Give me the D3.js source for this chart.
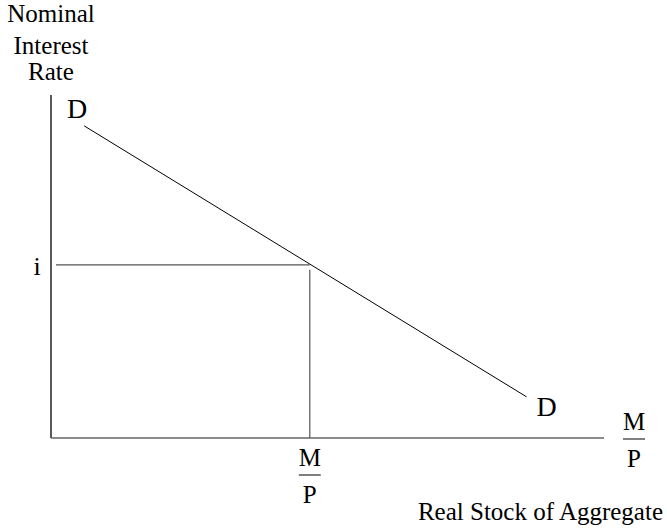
<!DOCTYPE html>
<html>
<head>
<meta charset="utf-8">
<script src="https://cdn.jsdelivr.net/npm/d3@7"></script>
<style>
  body { margin: 0; background: #fff; }
  text { font-family: "Liberation Serif", "Times New Roman", serif; fill: #000; }
</style>
</head>
<body>
<div id="chart"></div>
<script>
// money demand diagram, values in abstract units (0-100 on both axes)
const demandX = [6, 86];
const demandY = [91, 12];
const eqX = [46.8];
const eqY = [50.5];
const yTitle = ["Nominal", "Interest", "Rate"];
const xTitle = "Real Stock of Aggregate";

const width = 667;
const height = 531;
const margin = {top: 95, left: 51, right: 63, bottom: 93};

const svg = d3.select("#chart")
    .append("svg")
    .attr("width", width)
    .attr("height", height);

const xScale = d3.scaleLinear()
    .domain([0, 100])
    .range([margin.left, width - margin.right]);

const yScale = d3.scaleLinear()
    .domain([0, 100])
    .range([height - margin.bottom, margin.top]);

// axes
svg.append("line")
    .attr("x1", xScale(0)).attr("x2", xScale(0))
    .attr("y1", yScale(100)).attr("y2", yScale(0))
    .attr("stroke", "#222").attr("stroke-width", 1.5);

svg.append("line")
    .attr("x1", xScale(0)).attr("x2", xScale(100))
    .attr("y1", yScale(0)).attr("y2", yScale(0))
    .attr("stroke", "#666").attr("stroke-width", 1.5);

// demand curve
const demand = demandX.map(function(x, i) { return [x, demandY[i]]; });
svg.append("path")
    .datum(demand)
    .attr("d", d3.line().x(function(d) { return xScale(d[0]); }).y(function(d) { return yScale(d[1]); }))
    .attr("stroke", "#000").attr("stroke-width", 1).attr("fill", "none");

// equilibrium guides
svg.append("line")
    .attr("x1", xScale(0) + 5).attr("x2", xScale(eqX[0]))
    .attr("y1", yScale(eqY[0])).attr("y2", yScale(eqY[0]))
    .attr("stroke", "#555").attr("stroke-width", 1.2);

svg.append("line")
    .attr("x1", xScale(eqX[0])).attr("x2", xScale(eqX[0]))
    .attr("y1", yScale(eqY[0]) + 5).attr("y2", yScale(0))
    .attr("stroke", "#555").attr("stroke-width", 1.2);

// labels
const fs = 25;
const yLabelBase = [22, 54, 80];
yTitle.forEach(function(t, i) {
    svg.append("text")
        .attr("x", 51).attr("y", yLabelBase[i])
        .attr("text-anchor", "middle")
        .attr("font-size", fs)
        .text(t);
});

svg.append("text")
    .attr("x", xScale(demandX[0]) - 7).attr("y", yScale(demandY[0]) - 8)
    .attr("text-anchor", "middle").attr("font-size", 28).text("D");

svg.append("text")
    .attr("x", xScale(demandX[1]) + 20).attr("y", yScale(demandY[1]) + 19)
    .attr("text-anchor", "middle").attr("font-size", 28).text("D");

svg.append("text")
    .attr("x", xScale(0) - 14).attr("y", yScale(eqY[0]) + 10)
    .attr("text-anchor", "middle").attr("font-size", 26).text("i");

function fraction(cx, barY) {
    svg.append("text")
        .attr("x", cx).attr("y", barY - 9)
        .attr("text-anchor", "middle").attr("font-size", fs).text("M");
    svg.append("line")
        .attr("x1", cx - 11).attr("x2", cx + 11)
        .attr("y1", barY).attr("y2", barY)
        .attr("stroke", "#000").attr("stroke-width", 1);
    svg.append("text")
        .attr("x", cx).attr("y", barY + 28)
        .attr("text-anchor", "middle").attr("font-size", fs).text("P");
}
fraction(xScale(eqX[0]), 475);
fraction(634, 439);

svg.append("text")
    .attr("x", 663).attr("y", 520)
    .attr("text-anchor", "end")
    .attr("font-size", fs)
    .text(xTitle);
</script>
</body>
</html>
